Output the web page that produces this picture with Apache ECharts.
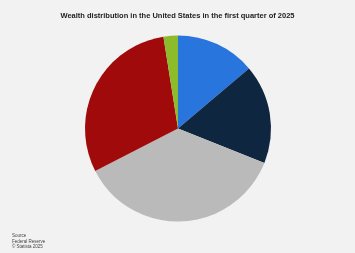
<!DOCTYPE html>
<html><head><meta charset="utf-8">
<script src="https://cdn.jsdelivr.net/npm/echarts@6/dist/echarts.min.js"></script>
<style>html,body{margin:0;padding:0;background:#f2f2f2;}#c{width:355px;height:253px;}</style>
</head><body><div id="c"></div>
<script>
const categories = ["Top 0.1%", "99th to 99.9th percentile", "90th to 99th percentile", "50th to 90th percentile", "Bottom 50%"];
const values = [13.8, 17.2, 36.4, 30.0, 2.5];
const colors = ["#2876dd", "#0f2640", "#bababa", "#a10a0a", "#8cbc2a"];
const chart = echarts.init(document.getElementById('c'), null, {renderer:'canvas'});
chart.setOption({
  backgroundColor: '#f2f2f2',
  animation: false,
  title: {
    text: 'Wealth distribution in the United States in the first quarter of 2025',
    left: 'center', top: 7,
    textStyle: {fontFamily: 'Liberation Sans, Arial, sans-serif', fontSize: 7.5, fontWeight: 'bold', color: '#222'}
  },
  graphic: [{
    type: 'text', left: 12, top: 233.5,
    style: {text: 'Source\nFederal Reserve\n© Statista 2025', fontFamily: 'Liberation Sans, Arial, sans-serif', fontSize: 4.5, lineHeight: 5.5, fill: '#444'}
  }],
  series: [{
    type: 'pie',
    center: [178, 128.5],
    radius: [0, 93],
    startAngle: 90,
    clockwise: true,
    label: {show: false},
    labelLine: {show: false},
    itemStyle: {borderWidth: 0},
    emphasis: {disabled: true},
    data: categories.map((n, i) => ({name: n, value: values[i], itemStyle: {color: colors[i]}}))
  }]
});
</script></body></html>
